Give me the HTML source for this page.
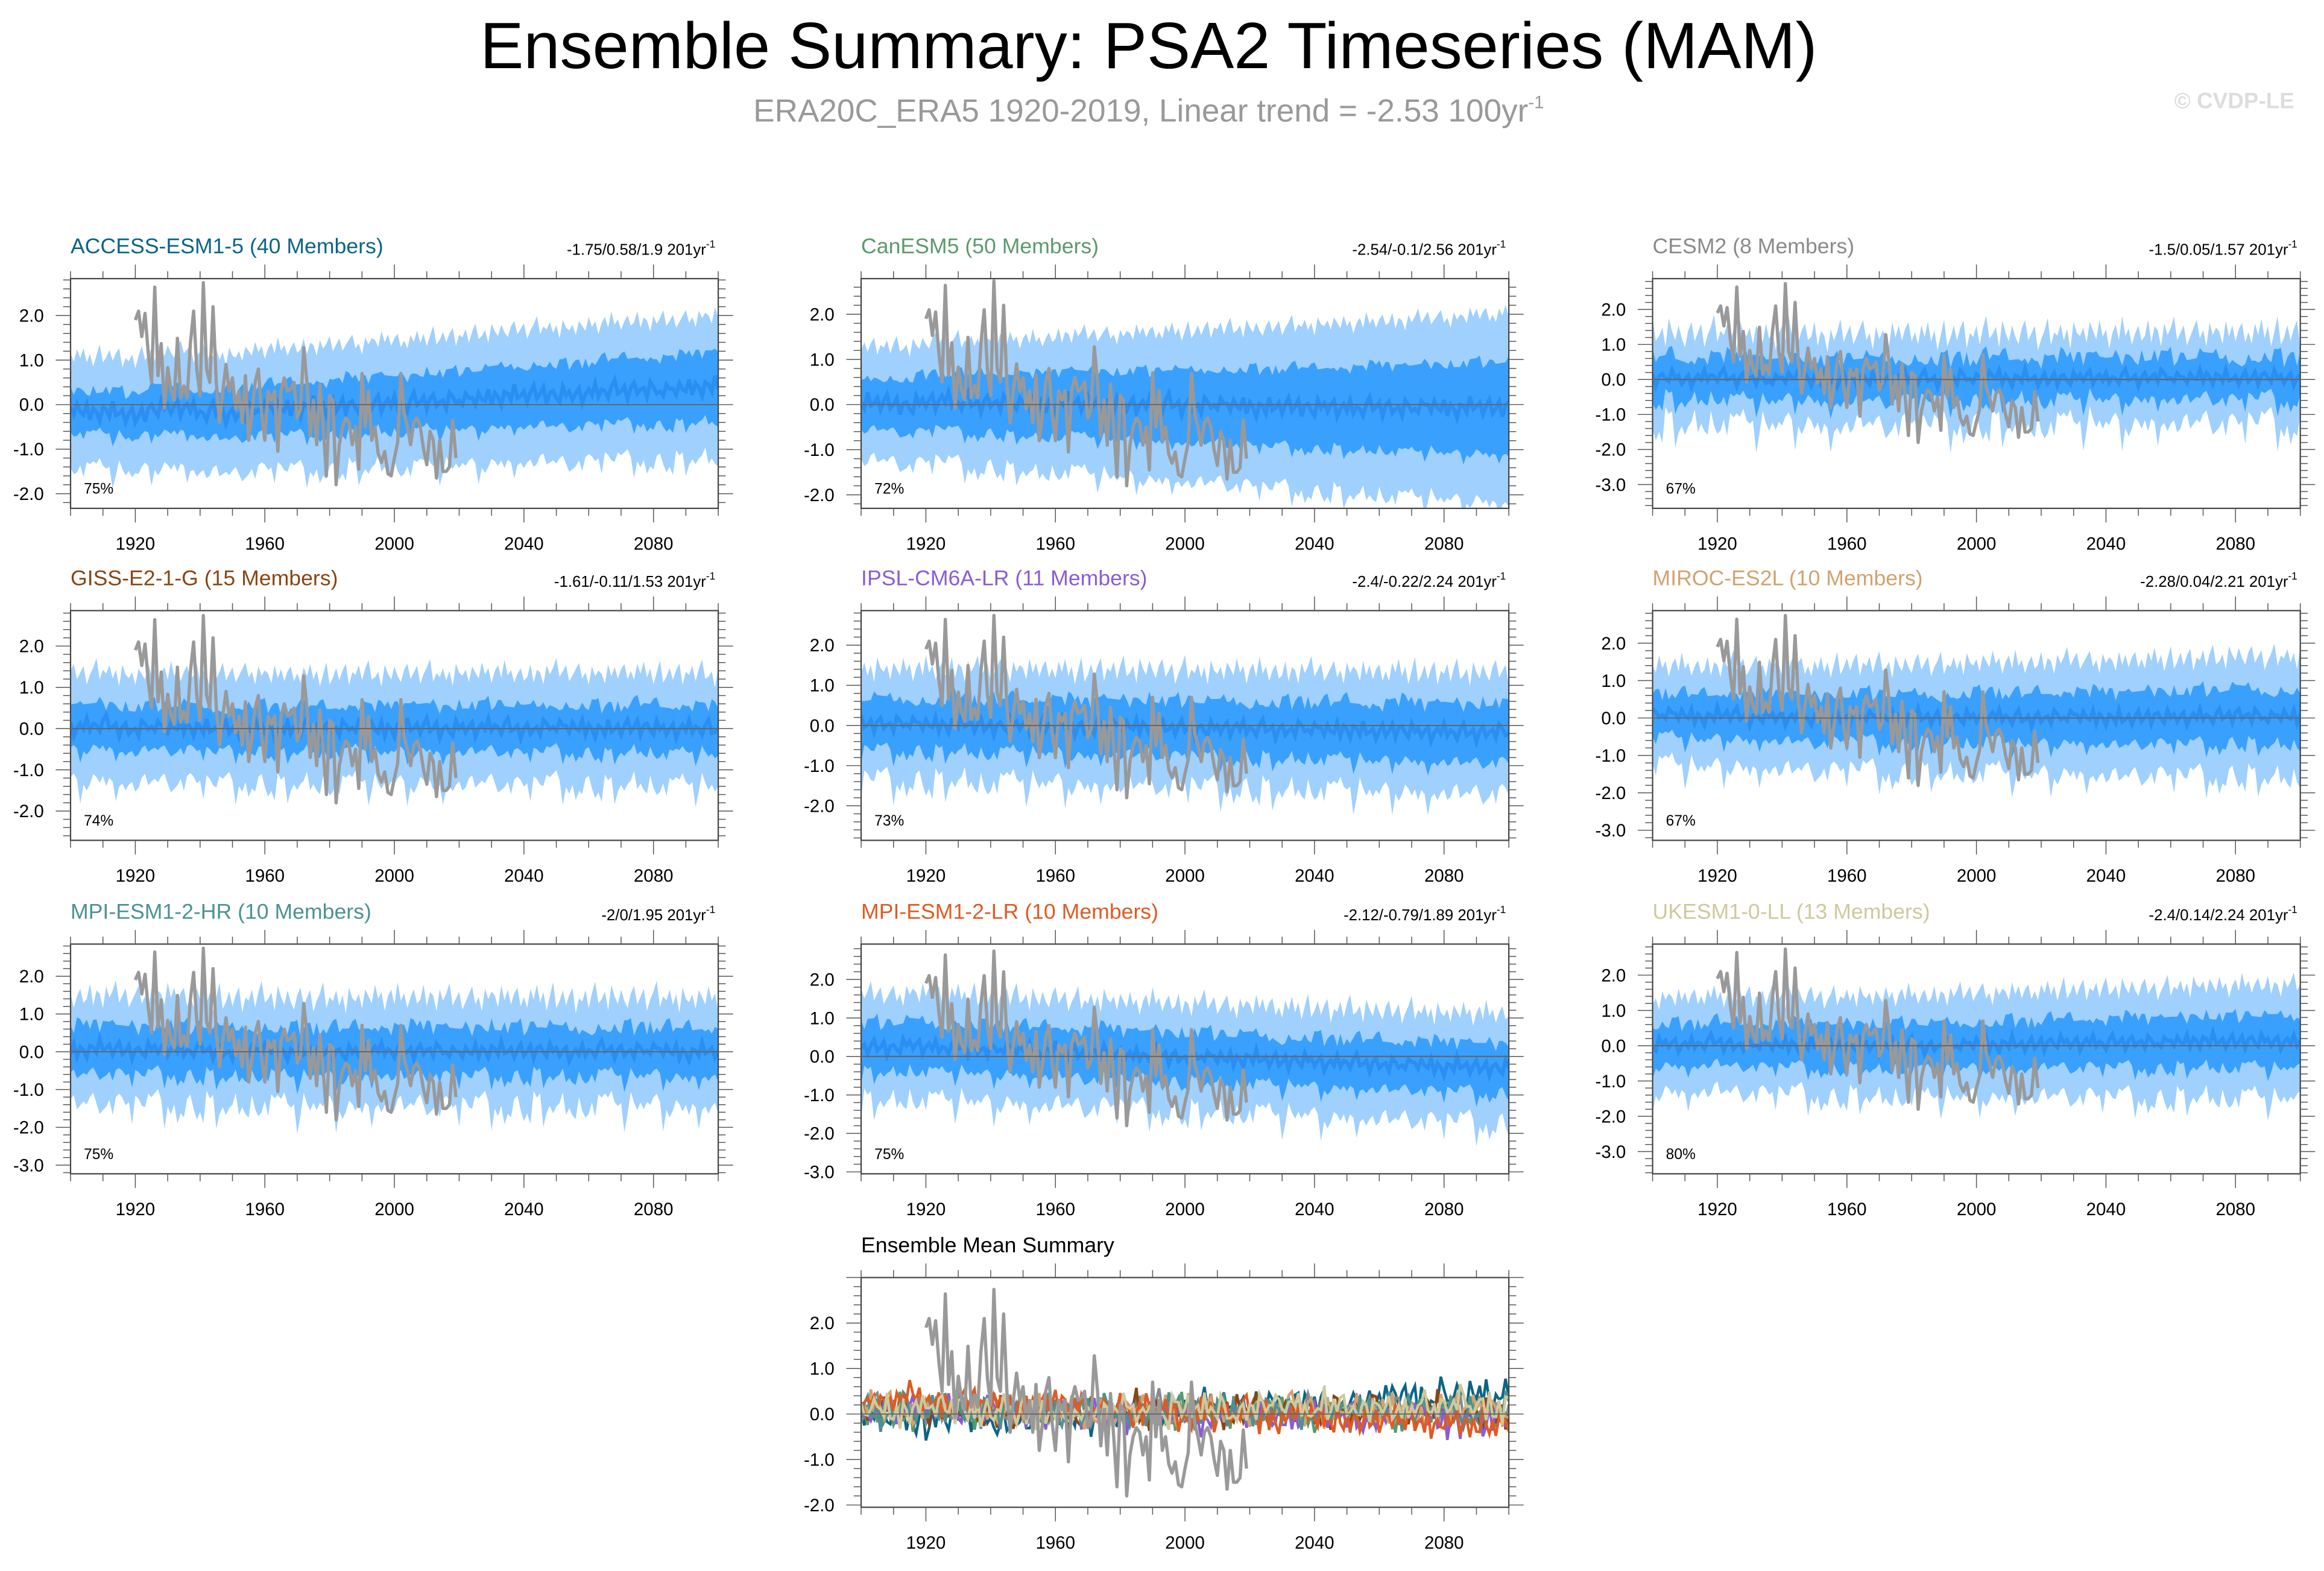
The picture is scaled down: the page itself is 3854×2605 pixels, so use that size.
<!DOCTYPE html>
<html><head><meta charset="utf-8">
<style>
html,body{margin:0;padding:0;background:#fff;}
svg{display:block;font-family:"Liberation Sans",sans-serif;}
</style></head>
<body>
<svg id="chart" xmlns="http://www.w3.org/2000/svg" width="3854" height="2605" viewBox="0 0 1568 1060" preserveAspectRatio="none">
<text x="775" y="46" font-size="44" text-anchor="middle" fill="#000">Ensemble Summary: PSA2 Timeseries (MAM)</text>
<text x="775" y="82" font-size="21.6" text-anchor="middle" fill="#999">ERA20C_ERA5 1920-2019, Linear trend = -2.53 100yr<tspan font-size="12" dy="-9">-1</tspan></text>
<text x="1548" y="73" font-size="15" font-weight="bold" text-anchor="end" fill="#ddd">© CVDP-LE</text>
<g id="panels"></g>
</svg>
<script>
// ---- Observations (ERA20C_ERA5), 1920-2019 ----
const obsStart = 1920;
const obsValues = [1.9,2.1,1.53,2.05,1.15,0.5,2.64,0.65,1.37,-0.08,0.83,0.33,0.1,1.49,0.15,0.42,0.15,1.37,2.1,0.78,
0.2,2.74,0.8,0.5,2.2,0.5,-0.4,0.3,0.9,0.3,0.6,-0.1,0.3,-0.4,0.65,-0.8,-0.2,0.5,0.8,-0.2,
-0.8,0.3,0.1,0.3,-1.05,0.3,0.6,0.3,0.35,0.5,-0.3,-0.1,1.28,0.5,-0.7,0.1,-0.9,0.45,-0.5,-1.6,
0.2,0.1,-1.8,-0.9,-0.5,-0.3,-0.4,-0.9,-0.5,-1.45,0.7,-0.5,0.3,-0.8,-0.5,-1.1,-1.3,-1.05,-1.55,-1.6,
-1.2,-0.85,0.7,-0.2,-0.5,-0.9,-0.4,-0.3,-0.5,-1.0,-1.35,-0.6,-0.8,-1.65,-0.8,-1.5,-1.5,-1.4,-0.35,-1.2];

// ---- Model ensemble means, every 5 years 1900-2100 ----
const meanYears = [1900,1905,1910,1915,1920,1925,1930,1935,1940,1945,1950,1955,1960,1965,1970,1975,1980,1985,1990,1995,2000,2005,2010,2015,2020,2025,2030,2035,2040,2045,2050,2055,2060,2065,2070,2075,2080,2085,2090,2095,2100];
const meanAccess = [-0.1,-0.2,-0.15,-0.2,-0.3,-0.1,-0.1,-0.05,-0.2,-0.2,-0.25,-0.15,-0.1,-0.1,-0.1,-0.05,-0.1,0,-0.05,0.05,0,0,0.1,0.05,0.1,0.1,0.15,0.2,0.2,0.25,0.2,0.2,0.25,0.3,0.3,0.35,0.3,0.3,0.35,0.4,0.4];
const meanCanesm = [0,0.05,0,-0.05,0.05,0.1,0.05,0,0.05,0,0,-0.05,0,0.05,0,0,-0.05,0,-0.05,0,-0.05,-0.05,0,-0.05,-0.05,-0.1,-0.05,-0.05,-0.1,-0.05,-0.1,-0.1,-0.05,-0.1,-0.1,-0.05,-0.1,-0.1,-0.05,-0.1,-0.05];
const meanCesm = [0,0.1,-0.05,0.05,0.1,0,0.05,-0.05,0,0.1,0,-0.1,0,0.05,-0.05,0,0.05,0,-0.05,0.05,0,0.1,0,0.05,-0.05,0.05,0,0.1,0,0.05,0,0.1,0.05,0,0.1,0.05,0,0.05,0.1,0,0.05];
const meanGiss = [0,0.05,0.1,0,-0.05,0.05,0,0.05,0,-0.05,0,0.05,0,-0.05,0,0,-0.05,0,0.05,-0.05,0,0,0.05,-0.05,0,0,0.05,0,-0.05,0,0.05,0,0,-0.05,0,0.05,0,-0.05,0,0,-0.1];
const meanIpsl = [0,0.05,0,0.05,0,0,0.05,0,-0.05,0,0,-0.05,0,-0.05,-0.1,0,-0.05,-0.05,0,-0.1,-0.05,-0.1,-0.1,-0.05,-0.1,-0.1,-0.15,-0.1,-0.1,-0.15,-0.1,-0.15,-0.2,-0.1,-0.15,-0.2,-0.15,-0.2,-0.2,-0.15,-0.2];
const meanMiroc = [0.05,0.1,0.05,0,0.05,0.1,0,0.05,0,0,-0.05,0,0,0.05,0,-0.05,0,0,-0.05,0,0,0.05,0,-0.05,0,0,0.05,0,0,-0.05,0,0.05,0,0,0.05,0,0.1,0.05,0,0.05,0];
const meanMpihr = [0,0.05,0.1,0.05,0,0.05,0.1,0,0.05,0,-0.05,0,0.05,0,-0.05,0,0,-0.05,0,0.05,0,0,0.05,0,-0.05,0,0.05,0,0,0.05,0,-0.05,0,0.05,0,0,0.05,0,-0.05,0,0];
const meanMpilr = [0.2,0.25,0.2,0.3,0.25,0.2,0.25,0.2,0.15,0.2,0.15,0.1,0.15,0.1,0.05,0.1,0.05,0,0.05,0,-0.05,0,-0.05,-0.1,-0.05,-0.1,-0.15,-0.1,-0.15,-0.2,-0.15,-0.2,-0.2,-0.25,-0.2,-0.25,-0.3,-0.25,-0.3,-0.3,-0.3];
const meanUkesm = [0,0.05,0,0.05,0.1,0,0.05,0,0,0.05,0,-0.05,0,0,-0.05,0,0,-0.05,0,0,0.05,0,0.05,0,0.05,0.1,0.05,0.1,0.05,0.1,0.1,0.05,0.1,0.1,0.15,0.1,0.1,0.15,0.1,0.1,0.1];

// ---- Year-to-year spread fluctuations ----
const spikeHi = [0.1,-0.2,0.3,0.0,0.4,-0.1,0.2,-0.3,0.1,0.5,-0.2,0.0,0.3,-0.1,0.2,0.4,-0.3,0.1,0.0,0.3,-0.2,0.2,0.5,-0.1,0.0,0.2,-0.3,0.4,0.1,-0.1,0.3,0.0,-0.2,0.2,0.4,-0.1,0.1,0.3,-0.3,0.0,0.2,0.5,-0.2,0.1,0.0,0.3,-0.1,0.2,-0.3,0.4,0.1,0.0,0.2,-0.2,0.3,0.1,-0.1,0.4,0.0,0.2,-0.3,0.1,0.3,-0.1,0.5,0.0,0.2,-0.2,0.1,0.3,-0.1,0.0,0.4,-0.2,0.2,0.1,-0.3,0.3,0.0,0.2,0.5,-0.1,0.1,0.3,-0.2,0.0,0.2,0.4,-0.1,0.1,-0.3,0.3,0.0,0.2,0.1,-0.2,0.4,0.0,0.3,-0.1,0.2,0.35,-0.15];
const spikeLo = [0.2,0.0,-0.2,0.4,0.1,-0.1,0.3,0.7,-0.2,0.0,0.2,-0.3,0.4,0.1,0.0,-0.2,0.3,0.8,-0.1,0.1,0.2,-0.2,0.0,0.4,-0.1,0.3,0.1,-0.3,0.2,0.6,0.0,-0.1,0.3,0.1,-0.2,0.4,0.0,0.2,-0.1,0.8,0.1,-0.2,0.3,0.0,0.2,-0.3,0.1,0.5,0.0,-0.1,0.3,0.2,-0.2,0.6,0.0,0.1,-0.3,0.2,0.4,-0.1,0.0,0.3,-0.2,0.1,0.2,0.7,-0.1,0.0,0.3,-0.2,0.4,0.1,0.0,-0.1,0.3,0.8,-0.2,0.1,0.2,-0.1,0.0,0.4,0.1,-0.3,0.2,0.0,0.3,-0.1,0.6,0.1,0.0,-0.2,0.3,0.2,-0.1,0.4,0.0,0.1,-0.2,0.3,0.15];
const spikeMean = [0.05,-0.1,0.15,0.0,-0.05,0.2,-0.15,0.1,0.0,-0.2,0.1,0.05,-0.1,0.25,-0.05,0.0,0.1,-0.15,0.05,0.2,-0.1,0.0,0.15,-0.2,0.05,0.1,-0.05,-0.15,0.2,0.0,0.1,-0.1,0.05,0.15,-0.2,0.0,0.1,-0.05,0.2,-0.1,0.05,0.0,-0.15,0.1,0.25,-0.05,0.0,0.1,-0.2,0.05,0.15,-0.1,0.0,0.05,-0.15,0.2,0.1,-0.05,0.0,-0.1,0.15,0.05];

// ---- Panel labels / metadata ----
const panelNames = ["ACCESS-ESM1-5 (40 Members)","CanESM5 (50 Members)","CESM2 (8 Members)","GISS-E2-1-G (15 Members)","IPSL-CM6A-LR (11 Members)","MIROC-ES2L (10 Members)","MPI-ESM1-2-HR (10 Members)","MPI-ESM1-2-LR (10 Members)","UKESM1-0-LL (13 Members)"];
const panelTrends = ["-1.75/0.58/1.9 201yr","-2.54/-0.1/2.56 201yr","-1.5/0.05/1.57 201yr","-1.61/-0.11/1.53 201yr","-2.4/-0.22/2.24 201yr","-2.28/0.04/2.21 201yr","-2/0/1.95 201yr","-2.12/-0.79/1.89 201yr","-2.4/0.14/2.24 201yr"];
const panelPercents = ["75%","72%","67%","74%","73%","67%","75%","75%","80%"];
const panelMeans = [meanAccess,meanCanesm,meanCesm,meanGiss,meanIpsl,meanMiroc,meanMpihr,meanMpilr,meanUkesm];
const innerWidth = [[0.45,0.75],[0.55,1.0],[0.55,0.55],[0.5,0.55],[0.6,0.7],[0.55,0.7],[0.6,0.6],[0.6,0.6],[0.55,0.7]];
const outerWidth = [[1.2,1.55],[1.2,2.05],[1.2,1.2],[1.25,1.3],[1.3,1.45],[1.25,1.55],[1.35,1.35],[1.3,1.35],[1.25,1.55]];
const spikeAmp = [0.8,0.75,1.5,1.0,1.15,1.15,1.3,1.15,1.15];
const yTickVals = [[-2,-1,0,1,2],[-2,-1,0,1,2],[-3,-2,-1,0,1,2],[-2,-1,0,1,2],[-2,-1,0,1,2],[-3,-2,-1,0,1,2],[-3,-2,-1,0,1,2],[-3,-2,-1,0,1,2],[-3,-2,-1,0,1,2]];
const yDomains = [[-2.33,2.83],[-2.3,2.79],[-3.68,2.88],[-2.71,2.86],[-2.86,2.86],[-3.27,2.87],[-3.23,2.85],[-3.05,2.92],[-3.63,2.88]];
const titleColors = ["#0b6585","#5b9a6b","#8a8a8a","#8b4513","#8a5cd6","#d2a26e","#4b9292","#e05a22","#cfc99c"];
const xTickLabels = [1920,1960,2000,2040,2080];
const summaryYTicks = [-2,-1,0,1,2];
const summaryDomain = [-2.05,3.0];

// ---- Layout (not data) ----
const colX = [47.6,581,1115], rowY = [188,412,637], boxW = 437, boxH = 155;
const NS = "http://www.w3.org/2000/svg";
const root = document.getElementById('panels');
function mk(tag, attrs, parent){const e=document.createElementNS(NS,tag);for(const k in attrs)e.setAttribute(k,attrs[k]);(parent||root).appendChild(e);return e;}
function meanAt(arr, yr){const i=(yr-1900)/5;const a=Math.floor(i),b=Math.min(a+1,arr.length-1);const f=i-a;return arr[a]*(1-f)+arr[b]*f;}

function drawAxes(g, x0, y0, xs, ys, yticks, dom){
  const frame = mk('rect',{x:x0,y:y0,width:boxW,height:boxH,fill:'none',stroke:'#444','stroke-width':0.9},g);
  
  
  const zl = mk('line',{x1:x0,x2:x0+boxW,y1:ys(0),y2:ys(0),stroke:'#666','stroke-width':0.8},g);
  
  
  for(let yr=1900; yr<=2100; yr+=10){
    const major = (yr-1920)%40===0; const L = major?9.5:5; const x = xs(yr);
    mk('line',{x1:x,x2:x,y1:y0,y2:y0-L,stroke:'#555','stroke-width':0.6},g);
    mk('line',{x1:x,x2:x,y1:y0+boxH,y2:y0+boxH+L,stroke:'#555','stroke-width':0.6},g);
  }
  xTickLabels.forEach(v=>{
    const t = mk('text',{x:xs(v),y:y0+boxH+28,'font-size':12,'text-anchor':'middle',fill:'#000'},g);
    t.textContent = v;
    
    
  });
  const start = Math.ceil(dom[0]*5)/5;
  for(let v=start; v<=dom[1]+1e-9; v+=0.2){
    const vv = Math.round(v*10)/10; const major = Math.abs(vv-Math.round(vv))<1e-6; const L = major?10:5; const y=ys(vv);
    mk('line',{x1:x0,x2:x0-L,y1:y,y2:y,stroke:'#555','stroke-width':0.6},g);
    mk('line',{x1:x0+boxW,x2:x0+boxW+L,y1:y,y2:y,stroke:'#555','stroke-width':0.6},g);
  }
  yticks.forEach(v=>{
    const t = mk('text',{x:x0-18,y:ys(v)+4.2,'font-size':12,'text-anchor':'end',fill:'#000'},g);
    t.textContent = v.toFixed(1);
    
    
  });
}
function obsPath(xs, ys){
  return obsValues.map((v,i)=>(i?'L':'M')+xs(obsStart+i).toFixed(2)+','+ys(v).toFixed(2)).join('');
}

panelNames.forEach((name, p)=>{
  const x0 = colX[p%3], y0 = rowY[Math.floor(p/3)];
  const dom = yDomains[p];
  const xs = yr => x0 + (yr-1900)/200*boxW;
  const ys = v => y0 + (dom[1]-v)/(dom[1]-dom[0])*boxH;
  const g = mk('g',{});
  
  
  const cid = 'clip'+p;
  const cp = mk('clipPath',{id:cid},g); mk('rect',{x:x0,y:y0,width:boxW,height:boxH},cp);
  const pg = mk('g',{'clip-path':'url(#'+cid+')'},g);
  const off = p*11, amp = spikeAmp[p];
  const hiO=[],loO=[],hiI=[],loI=[],mn=[];
  for(let yr=1900; yr<=2100; yr++){
    const k = yr-1900;
    const f=k/200, m=meanAt(panelMeans[p],yr);
    const a=spikeHi[(k+off)%spikeHi.length], b=spikeLo[(k*3+off*2)%spikeLo.length], c=spikeMean[(k+off)%spikeMean.length];
    const a2=spikeHi[(k*7+off)%spikeHi.length];
    const iw=innerWidth[p][0]*(1-f)+innerWidth[p][1]*f, ow=outerWidth[p][0]*(1-f)+outerWidth[p][1]*f;
    hiO.push([xs(yr),ys(m+ow+a*0.75*amp)]); loO.push([xs(yr),ys(m-ow-b*0.75*amp)]);
    hiI.push([xs(yr),ys(m+iw+a2*0.45*amp)]); loI.push([xs(yr),ys(m-iw-b*0.45*amp)]);
    mn.push([xs(yr),ys(m+c)]);
  }
  const poly=(h,l)=>h.concat(l.slice().reverse()).map(q=>q[0].toFixed(2)+','+q[1].toFixed(2)).join(' ');
  const ob = mk('polygon',{points:poly(hiO,loO),fill:'#a0d0fd'},pg);
  
  
  const ib = mk('polygon',{points:poly(hiI,loI),fill:'#3aa0fd'},pg);
  
  
  const zl0 = mk('line',{x1:x0,x2:x0+boxW,y1:ys(0),y2:ys(0),stroke:'#666','stroke-width':0.8},pg);
  const ml = mk('polyline',{points:mn.map(q=>q[0].toFixed(2)+','+q[1].toFixed(2)).join(' '),fill:'none',stroke:'#2a8ef2','stroke-width':2.6},pg);
  
  
  const ol = mk('path',{d:obsPath(xs,ys),fill:'none',stroke:'#999','stroke-width':2.2,'stroke-linejoin':'round'},pg);
  
  
  drawAxes(g,x0,y0,xs,ys,yTickVals[p],dom);
  const t = mk('text',{x:x0,y:y0-17,'font-size':14.5,fill:titleColors[p]},g);
  t.textContent = name;
  
  
  const tr = mk('text',{x:x0+boxW-2,y:y0-16,'font-size':10.5,'text-anchor':'end',fill:'#000'},g);
  tr.textContent = panelTrends[p];
  
  
  const sup = mk('tspan',{'font-size':7,dy:-5},tr); sup.textContent='-1';
  const pc = mk('text',{x:x0+9,y:y0+boxH-10,'font-size':10,fill:'#000'},g);
  pc.textContent = panelPercents[p];
  
  
});

// ---- Ensemble mean summary panel ----
(function(){
  const x0=581, y0=862, dom=summaryDomain;
  const xs = yr => x0 + (yr-1900)/200*boxW;
  const ys = v => y0 + (dom[1]-v)/(dom[1]-dom[0])*boxH;
  const g = mk('g',{});
  
  
  const cp = mk('clipPath',{id:'clipS'},g); mk('rect',{x:x0,y:y0,width:boxW,height:boxH},cp);
  const pg = mk('g',{'clip-path':'url(#clipS)'},g);
  panelMeans.forEach((arr,p)=>{
    const pts=[];
    for(let yr=1900; yr<=2100; yr++){
      const k=yr-1900;
      const c=spikeMean[(k+p*7)%spikeMean.length], a=spikeHi[(k*3+p*5)%spikeHi.length];
      pts.push(xs(yr).toFixed(2)+','+ys(meanAt(arr,yr)+c*1.3+a*0.5).toFixed(2));
    }
    const l = mk('polyline',{points:pts.join(' '),fill:'none',stroke:titleColors[p],'stroke-width':1.8},pg);
    
    
  });
  const ol = mk('path',{d:obsPath(xs,ys),fill:'none',stroke:'#999','stroke-width':2.2,'stroke-linejoin':'round'},pg);
  
  
  drawAxes(g,x0,y0,xs,ys,summaryYTicks,dom);
  const t = mk('text',{x:x0,y:y0-17,'font-size':14.5,fill:'#000'},g);
  t.textContent='Ensemble Mean Summary';
  
  
})();
</script>
</body></html>
